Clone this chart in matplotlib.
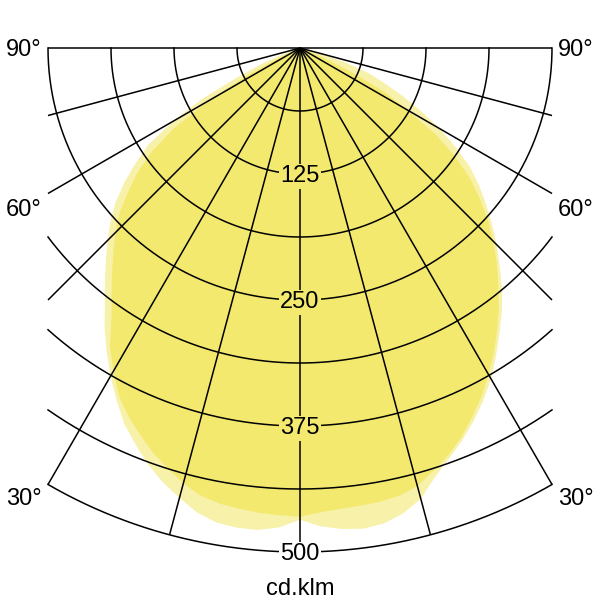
import numpy as np
import matplotlib.pyplot as plt

plt.rcParams['font.family'] = ['Liberation Sans', 'DejaVu Sans']

# Ángulos medidos desde la vertical hacia abajo (grados) e intensidades (cd/klm)
angulos = np.arange(0, 92.5, 2.5)
oscuro_izq = [465, 464, 463, 461, 459, 455, 447, 437, 427, 415, 403, 389, 370, 351, 326, 307,
              290, 274, 259, 243, 223, 203, 180, 148, 105, 60, 20, 0, 0, 0, 0, 0, 0, 0, 0, 0, 0]
oscuro_der = [465, 461, 459, 458, 457, 455, 450, 440, 430, 418, 404, 390, 374, 358, 341, 324,
              306, 289, 271, 253, 233, 213, 188, 160, 122, 95, 55, 25, 5, 0, 0, 0, 0, 0, 0, 0, 0]
claro_izq = [468, 476, 480, 480, 478, 472, 462, 452, 440, 426, 412, 394, 376, 357, 338, 318,
             301, 285, 270, 255, 239, 220, 199, 178, 145, 110, 68, 40, 18, 5, 0, 0, 0, 0, 0, 0, 0]
claro_der = [468, 475, 479, 481, 479, 473, 463, 446, 433, 421, 408, 394, 379, 362, 345, 329,
             312, 293, 276, 258, 241, 224, 206, 183, 160, 135, 112, 90, 72, 45, 15, 0, 0, 0, 0, 0, 0]

niveles = [125, 250, 375, 500]
etiquetas_ang = ['90°', '60°', '30°']
y_etiquetas_ang = [0, -158, -445]

r_max = 500
semi_ancho = 250  # recorte lateral de la retícula


def contorno(izq, der):
    t = np.radians(np.concatenate([-angulos[::-1], angulos[1:]]))
    r = np.concatenate([np.array(izq)[::-1], np.array(der)[1:]])
    return r * np.sin(t), -r * np.cos(t)


fig = plt.figure(figsize=(6, 6), dpi=100)
ax = fig.add_axes([0, 0, 1, 1])
ax.axis('off')
esc = 1.008
ax.set_xlim(-300 / esc, 300 / esc)
ax.set_ylim(-552 / esc, 48 / esc)

# Curvas de distribución
x, y = contorno(claro_izq, claro_der)
ax.fill(x, y, color='#f8f1a9', lw=0, zorder=1)
x, y = contorno(oscuro_izq, oscuro_der)
ax.fill(x, y, color='#f3e96f', lw=0, zorder=2)

# Arcos de la retícula
for r in np.arange(62.5, r_max + 1, 62.5):
    lim = np.arcsin(min(1, semi_ancho / r))
    t = np.linspace(-lim, lim, 300)
    ax.plot(r * np.sin(t), -r * np.cos(t), color='black', lw=1.1, zorder=3)

# Líneas radiales cada 15°
for a in range(-90, 91, 15):
    t = np.radians(a)
    largo = r_max if abs(np.sin(t)) < 1e-9 else min(r_max, semi_ancho / abs(np.sin(t)))
    ax.plot([0, largo * np.sin(t)], [0, -largo * np.cos(t)], color='black', lw=1.1,
            zorder=3, solid_capstyle='butt')

# Etiquetas de intensidad
for n in niveles:
    fondo = 'white' if n == r_max else '#f3e96f'
    ax.text(0, -n, str(n), fontsize=17, ha='center', va='center_baseline', zorder=4,
            bbox=dict(facecolor=fondo, edgecolor='none', pad=1.2))

# Etiquetas de ángulo
for txt, yy in zip(etiquetas_ang, y_etiquetas_ang):
    ax.text(-256, yy, txt, fontsize=17, ha='right', va='center_baseline')
    ax.text(256, yy, txt, fontsize=17, ha='left', va='center_baseline')

ax.text(0, -542.7, 'cd.klm', fontsize=17, ha='center', va='baseline')

fig.savefig('out.png', dpi=100)
